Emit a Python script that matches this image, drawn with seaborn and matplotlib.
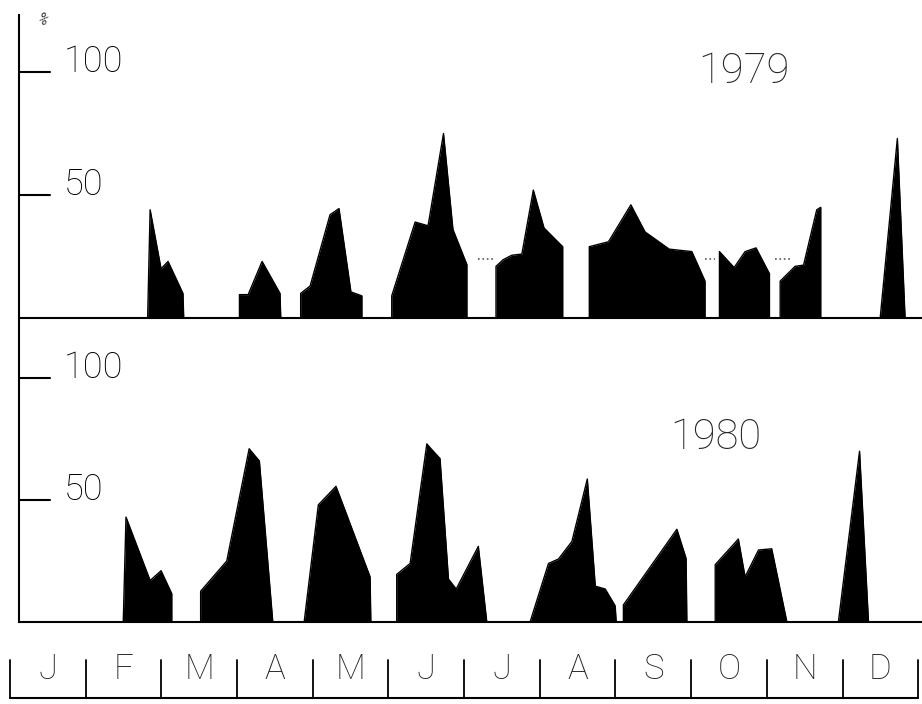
import numpy as np
import matplotlib.pyplot as plt
import seaborn as sns

sns.set_theme(style="white")
plt.rcParams['font.family'] = ['Roboto', 'DejaVu Sans']

months = ['J', 'F', 'M', 'A', 'M', 'J', 'J', 'A', 'S', 'O', 'N', 'D']
month_edges = np.linspace(0, 365, 13)

# 1979 - day of year / percent, one list per sampling period
days_1979 = [
    [55.3, 56.3, 60.7, 63.5, 69.5, 69.8],
    [92.2, 92.2, 95.7, 101.3, 108.5, 108.8],
    [116.8, 116.8, 120.6, 128.6, 132.2, 137.0, 141.4, 141.4],
    [153.4, 153.4, 162.8, 168.0, 174.2, 178.0, 183.6, 183.6],
    [195.3, 195.3, 198.2, 201.6, 205.7, 210.3, 214.6, 222.1, 222.1],
    [232.8, 232.8, 240.5, 249.5, 255.2, 264.9, 274.0, 279.3, 279.3],
    [285.1, 285.1, 291.0, 295.4, 299.8, 305.2, 305.2],
    [309.5, 309.5, 315.5, 318.9, 324.2, 325.8, 325.8],
    [349.7, 356.6, 359.7],
]
pct_1979 = [
    [0, 44, 20, 23, 10, 0],
    [0, 9.5, 9.5, 23, 10, 0],
    [0, 10, 13, 42, 44.5, 10.6, 9, 0],
    [0, 9, 39, 37.5, 75, 36, 21.7, 0],
    [0, 21, 23.7, 25.5, 26, 52, 36.6, 29, 0],
    [0, 29, 31, 46, 35, 28, 27, 15, 0],
    [0, 27, 20.5, 27, 28.5, 18, 0],
    [0, 15, 21, 21.5, 44, 45, 0],
    [0, 73, 0],
]
# faint dotted links in 1979
gap_start_1979 = [188.1, 279.3, 307.5]
gap_end_1979 = [194.5, 283.4, 313.5]
gap_level_1979 = 24

# 1980
days_1980 = [
    [45.5, 46.6, 56.3, 60.7, 65.0, 65.0],
    [76.6, 76.6, 87.1, 96.1, 100.2, 105.6],
    [118.2, 123.9, 131.0, 144.7, 145.0],
    [155.4, 155.4, 160.8, 167.5, 169.2, 172.8, 176.2, 179.3, 188.2, 191.6],
    [209.0, 216.4, 220.4, 225.8, 232.0, 235.2, 239.2, 243.2, 243.6],
    [246.5, 246.5, 268.0, 271.7, 272.0],
    [283.4, 283.4, 292.7, 295.4, 300.8, 306.1, 312.2],
    [332.9, 341.4, 345.0],
]
pct_1980 = [
    [0, 43, 17, 21, 11.6, 0],
    [0, 12.6, 25, 71, 66, 0],
    [0, 48, 55.6, 18.5, 0],
    [0, 19.5, 24, 73, 71, 67, 17.6, 13.5, 31, 0],
    [0, 24, 25.8, 33, 58.6, 14.7, 13.5, 6.6, 0],
    [0, 7, 38, 26, 0],
    [0, 23.5, 34, 18.5, 29.5, 30, 0],
    [0, 70, 0],
]

yticks = [50, 100]


def draw_panel(ax, days, pct, ytop):
    for d, p in zip(days, pct):
        ax.fill_between(d, p, 0, color='black', lw=0)
        sns.lineplot(x=d, y=p, ax=ax, color='black', lw=1, sort=False, estimator=None)
    ax.set_xlim(3.6, 366.5)
    ax.set_ylim(0, ytop)
    ax.set_xticks([])
    ax.set_yticks([])
    sns.despine(ax=ax)
    for s in ['left', 'bottom']:
        ax.spines[s].set_color('black')
        ax.spines[s].set_linewidth(1.5)
    tr = ax.get_yaxis_transform()
    for v in yticks:
        ax.plot([0, 0.034], [v, v], transform=tr, color='black', lw=1.5, clip_on=False)
        ax.text(0.05, v, str(v), transform=tr, ha='left', va='baseline',
                fontsize=26, fontweight='light', color='black')


fig = plt.figure(figsize=(9.22, 7.04), dpi=100)
ax1 = fig.add_axes([0.0206, 0.5483, 0.9794, 0.4304])
ax2 = fig.add_axes([0.0206, 0.1165, 0.9794, 0.4290])
axm = fig.add_axes([0.0, 0.0, 1.0, 0.0909])

draw_panel(ax1, days_1979, pct_1979, 123.2)
draw_panel(ax2, days_1980, pct_1980, 123.8)

for a, b in zip(gap_start_1979, gap_end_1979):
    ax1.plot([a, b], [gap_level_1979, gap_level_1979], color='0.35', lw=1.2, ls=':')

fig.text(0.807, 0.898, '1979', ha='center', va='center', fontsize=30, fontweight='light')
fig.text(0.776, 0.379, '1980', ha='center', va='center', fontsize=30, fontweight='light')
fig.text(0.045, 0.972, '%', ha='center', va='center', fontsize=10, rotation=-35, color='0.2')

# month strip
axm.set_xlim(-4.0, 366.5)
axm.set_ylim(0, 1)
axm.axis('off')
axm.plot([month_edges[0], month_edges[-1]], [0.094, 0.094], color='black', lw=1.5)
for e in month_edges:
    axm.plot([e, e], [0.094, 0.68], color='black', lw=1.3)
centers = (month_edges[:-1] + month_edges[1:]) / 2
for c, m in zip(centers, months):
    axm.text(c, 0.55, m, ha='center', va='center', fontsize=25, fontweight='light')

fig.savefig('out.png', dpi=100, facecolor='white')
